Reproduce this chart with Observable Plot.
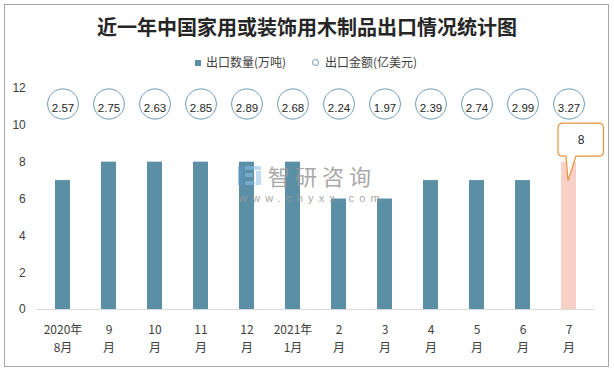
<!DOCTYPE html>
<html><head><meta charset="utf-8">
<script src="https://cdn.jsdelivr.net/npm/d3@7"></script>
<script src="https://cdn.jsdelivr.net/npm/@observablehq/plot@0.6"></script>
<style>
body{margin:0;background:#fff;}
#wrap{position:relative;width:614px;height:370px;overflow:hidden;font-family:"Liberation Sans","Noto Sans CJK SC",sans-serif;color:#404040;}
#frame{position:absolute;left:4px;top:4px;width:605px;height:363px;border:1px solid #a6a6a6;box-sizing:border-box;}
#title{position:absolute;left:0;width:614px;top:13px;text-align:center;font-family:"Noto Sans CJK SC",sans-serif;font-size:20px;font-weight:bold;color:#262626;line-height:28px;}
.lg{position:absolute;top:54px;font-size:12px;line-height:16px;font-family:"Noto Sans CJK SC",sans-serif;color:#404040;}
#chart{position:absolute;left:0;top:0;}
#wm{position:absolute;left:0;top:0;pointer-events:none;}
</style></head>
<body><div id="wrap">
<div id="frame"></div>
<div id="title">近一年中国家用或装饰用木制品出口情况统计图</div>
<div id="chart"></div>
<svg id="wm" width="614" height="370">
  <g opacity="0.55">
    <rect x="238" y="166" width="5" height="19" fill="#5a9bd0"/>
    <rect x="245" y="166" width="16" height="4" fill="#8cc0e6"/>
    <rect x="245" y="173" width="8" height="4" fill="#8cc0e6"/>
    <rect x="256" y="171" width="5" height="14" fill="#8cc0e6"/>
    <rect x="245" y="181" width="10" height="4" fill="#8cc0e6"/>
  </g>
  <text x="268" y="185" font-family="Noto Sans CJK SC" font-size="22" letter-spacing="5" fill="#9a9a9a" opacity="0.85">智研咨询</text>
  <text x="239" y="202" font-family="Liberation Sans" font-size="11" letter-spacing="5.2" fill="#9a9a9a" opacity="0.85">www.chyxx.com</text>
</svg>
</div>
<script>
const months = ["2020年\n8月","9\n月","10\n月","11\n月","12\n月","2021年\n1月","2\n月","3\n月","4\n月","5\n月","6\n月","7\n月"];
const volume = [7,8,8,8,8,8,6,6,7,7,7,8];
const amount = [2.57,2.75,2.63,2.85,2.89,2.68,2.24,1.97,2.39,2.74,2.99,3.27];
const yTicks = [0,2,4,6,8,10,12];
const legendLabels = ["出口数量(万吨)","出口金额(亿美元)"];
const barColor = "#5b8fa6";
const lastColor = "#f8d0c6";
const ringColor = "#6e9cb2";
const calloutColor = "#e8913a";

const data = months.map((m,i)=>({month:m, volume:volume[i], amount:amount[i], last:i===months.length-1}));
const lastData = data.filter(d=>d.last);

// legend
const wrap = document.getElementById("wrap");
wrap.insertAdjacentHTML("beforeend",
 `<div class="lg" style="left:195px"><span style="display:inline-block;width:6px;height:6px;background:${barColor};margin-right:5px;vertical-align:1px"></span>${legendLabels[0]}</div>
  <div class="lg" style="left:312px"><span style="display:inline-block;width:5px;height:5px;border:1px solid ${ringColor};border-radius:50%;margin-right:6px;vertical-align:1px"></span>${legendLabels[1]}</div>`);

const ellipse = {draw(ctx){const rx=15.4, ry=15.1, k=0.5523;
  ctx.moveTo(rx,0);
  ctx.bezierCurveTo(rx,ry*k,rx*k,ry,0,ry);
  ctx.bezierCurveTo(-rx*k,ry,-rx,ry*k,-rx,0);
  ctx.bezierCurveTo(-rx,-ry*k,-rx*k,-ry,0,-ry);
  ctx.bezierCurveTo(rx*k,-ry,rx,-ry*k,rx,0);
  ctx.closePath();}};

function calloutRender(index, scales, values, dimensions, context, next){
  const g = next(index, scales, values, dimensions, context);
  const ns = "http://www.w3.org/2000/svg";
  const grp = document.createElementNS(ns,"g");
  for (const i of index) {
    const d = lastData[i];
    const cx = scales.x(d.month) + scales.x.bandwidth()/2;
    const cy = scales.y(d.volume);
    const L=cx-10.5, R=cx+35, T=cy-38.5, B=cy-5.5, r=5;
    const p = `M${L+r},${T} H${R-r} Q${R},${T} ${R},${T+r} V${B-r} Q${R},${B} ${R-r},${B} H${cx+7.5} L${cx-0.5},${cy+19} L${cx-2.5},${B} H${L+r} Q${L},${B} ${L},${B-r} V${T+r} Q${L},${T} ${L+r},${T} Z`;
    const path = document.createElementNS(ns,"path");
    path.setAttribute("d",p);
    path.setAttribute("fill","#fff");
    path.setAttribute("stroke",calloutColor);
    path.setAttribute("stroke-width","1.2");
    grp.appendChild(path);
  }
  grp.appendChild(g);
  return grp;
}

const chart = Plot.plot({
  width:614, height:370,
  marginLeft:36.25, marginRight:19.75, marginTop:88, marginBottom:61,
  style:{fontFamily:'"Liberation Sans","Noto Sans CJK SC",sans-serif', fontSize:"12px", color:"#404040", background:"transparent"},
  x:{domain:months, paddingInner:0.677, paddingOuter:0.3385, label:null},
  y:{domain:[0,12], label:null},
  color:{type:"identity"},
  marks:[
    Plot.axisY({ticks:yTicks, tickSize:0, tickPadding:11, fontSize:12, label:null}),
    Plot.axisX({tickSize:0, tickPadding:11, fontSize:12, lineHeight:1.55, label:null, fontFamily:'"Noto Sans CJK SC",sans-serif'}),
    Plot.barY(data, {x:"month", y:"volume", fill:d=>d.last?lastColor:barColor}),
    Plot.ruleY([0], {stroke:"#d9d9d9"}),
    Plot.dot(data, {x:"month", frameAnchor:"top", dy:15.5, symbol:ellipse, fill:"#fff", stroke:ringColor, strokeWidth:1}),
    Plot.text(data, {x:"month", frameAnchor:"top", dy:15.5, text:d=>d.amount.toFixed(2), fontSize:11.5, fill:"#262626"}),
    Plot.text(lastData, {x:"month", y:"volume", dx:12, dy:-22, text:d=>String(d.volume), fontSize:12, fill:"#262626", render:calloutRender})
  ]
});
document.getElementById("chart").appendChild(chart);
</script>
</body></html>
